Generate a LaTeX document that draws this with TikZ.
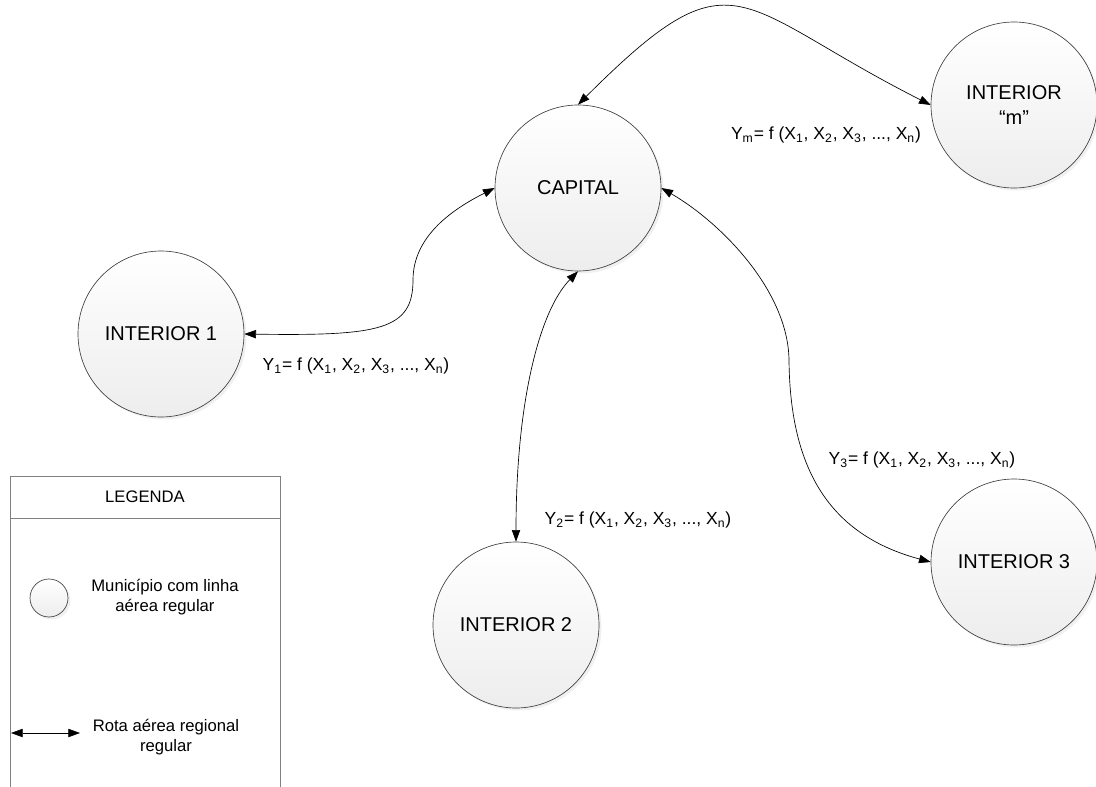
\documentclass[tikz,border=0pt]{standalone}
\usepackage{fontspec}
\setmainfont{Liberation Sans}
\usetikzlibrary{arrows.meta}
\usetikzlibrary{shadows}
\newcommand{\funcao}[1]{Y\textsubscript{#1}= f (X\textsubscript{1}, X\textsubscript{2}, X\textsubscript{3}, ..., X\textsubscript{n})}

\begin{document}
\begin{tikzpicture}[x=0.6pt, y=-0.6pt,
	cidade/.style = {draw=black!75, circle, minimum size=99.6pt, inner sep=0pt, align=center,
		top color=white, bottom color=black!7,
		drop shadow={opacity=0.12, shadow xshift=1.5pt, shadow yshift=-1.5pt},
		font=\fontsize{12}{14.5}\selectfont},
	rota/.style = {draw, {Triangle[length=7pt,width=5pt]}-{Triangle[length=7pt,width=5pt]}},
	rotulo/.style = {font=\fontsize{10.5}{12}\selectfont},
	legenda/.style = {font=\fontsize{10}{12}\selectfont, align=center}]
	\useasboundingbox (0,0) rectangle (1096,787);

	\node[cidade] (cap) at (578,188) {CAPITAL};
	\node[cidade] (intm) at (1014,105) {INTERIOR\\“m”};
	\node[cidade] (int1) at (161,334) {INTERIOR 1};
	\node[cidade] (int2) at (516,625) {INTERIOR 2};
	\node[cidade] (int3) at (1014,562) {INTERIOR 3};

	\draw[rota] (cap.north) .. controls (736,-53) and (733,5) .. (intm.west);
	\draw[rota] (int1.east) .. controls (380,336) and (413,330) .. (413,280)
		.. controls (413,235) and (455,208) .. (cap.west);
	\draw[rota] (int2.north) .. controls (516,400) and (540,310) .. (cap.south);
	\draw[rota] (cap.east) .. controls (720,222) and (788,290) .. (789,360)
		.. controls (790,470) and (830,535) .. (int3.west);

	\node[rotulo] (ym) at (826,135) {\funcao{m}};
	\node[rotulo] (y1) at (356,366) {\funcao{1}};
	\node[rotulo] (y2) at (638,520) {\funcao{2}};
	\node[rotulo] (y3) at (922,460) {\funcao{3}};

	\draw[gray] (10,787) -- (10,476) -- (280,476) -- (280,787);
	\draw[gray] (10,518) -- (280,518);
	\node[legenda] (leg) at (145,497) {LEGENDA};
	\node[cidade, minimum size=22.8pt] (simb) at (49,598) {};
	\node[legenda] (txtcid) at (165,597) {Município com linha\\aérea regular};
	\coordinate (rotaA) at (11,733);
	\coordinate (rotaB) at (80,733);
	\draw[rota] (rotaA) -- (rotaB);
	\node[legenda] (txtrota) at (166,737) {Rota aérea regional\\regular};
\end{tikzpicture}
\end{document}
